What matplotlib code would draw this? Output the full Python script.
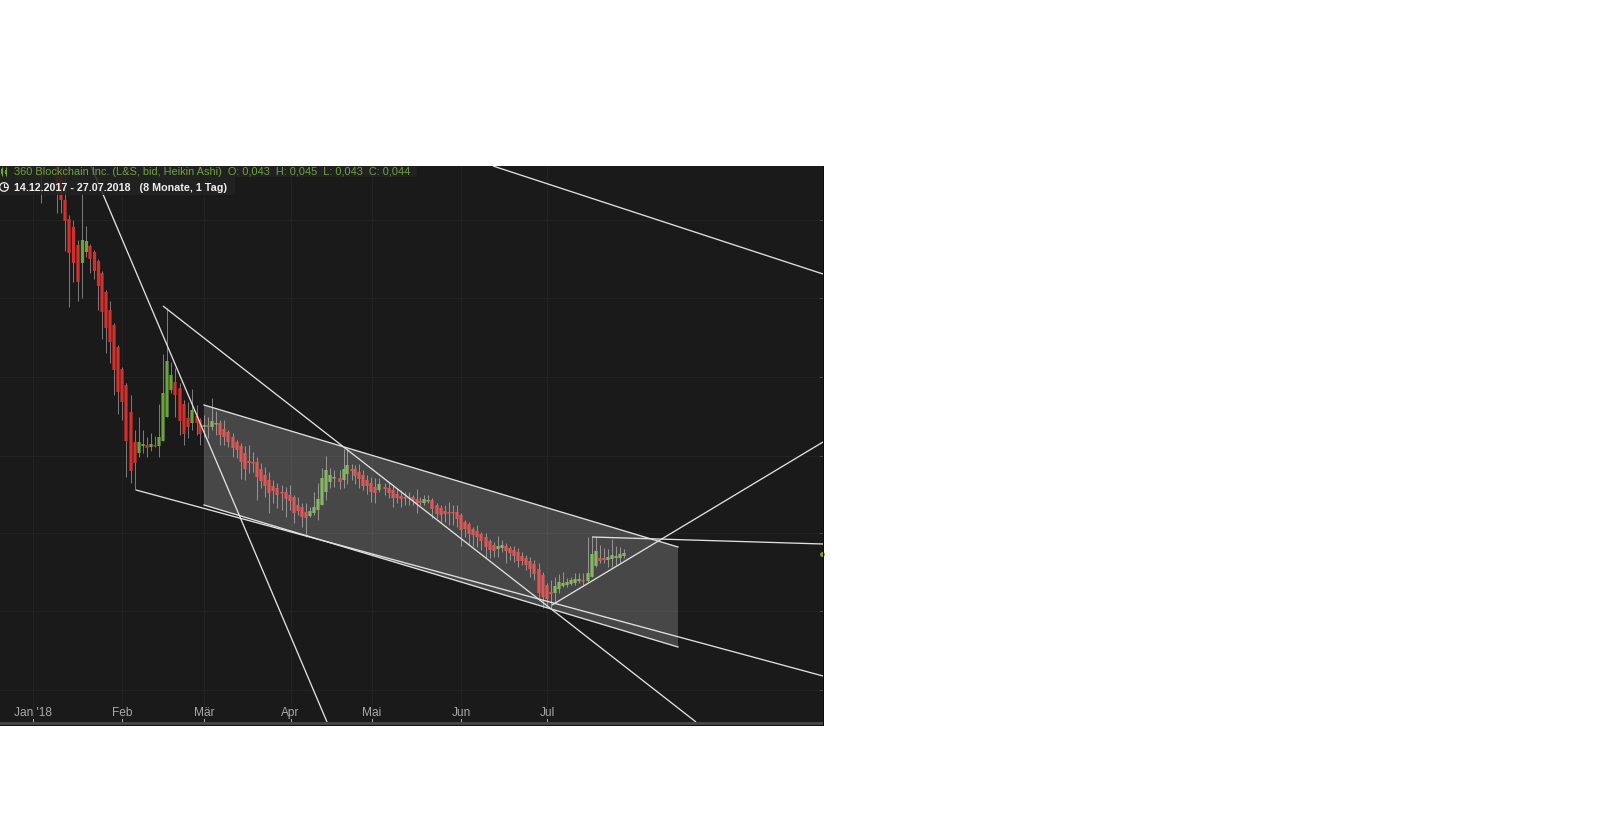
import matplotlib
matplotlib.use("Agg")
import matplotlib.pyplot as plt
from matplotlib.patches import Circle, Polygon, Rectangle

plt.rcParams['font.family'] = ['Liberation Sans', 'DejaVu Sans']

bar_x = [41, 57, 61, 65, 69, 73.5, 78, 82.5, 86.5, 90, 94.5, 98.5, 102, 106, 110, 114, 118, 122, 126, 131,
         135, 139, 143, 147, 151, 155, 159, 163, 167, 171, 175, 180, 184, 188, 192, 197, 200, 204, 208, 212,
         216, 220, 224, 228, 233, 237, 241, 245, 249, 253, 257, 261, 265, 269, 273, 277, 282, 286, 290, 294,
         298, 302, 306, 310, 314, 318, 322, 326, 330, 334, 340, 344, 347, 352, 355, 359, 363, 367, 371, 375,
         379, 385, 389, 393, 397, 401, 405, 409, 413, 417, 420, 424, 428, 432, 437, 441, 445, 449, 453, 457,
         461, 465, 469, 473, 477, 481, 486, 490, 494, 498, 502, 506, 510, 514, 518, 522, 526, 530, 534, 539,
         543, 547, 551, 555, 559, 563, 567, 571, 575, 579, 583, 588, 592, 596, 600, 604, 608, 612, 616, 620, 624]
body_top = [168, 166, 176, 200, 219, 227, 245, 240, 241, 246, 252, 261, 273, 292, 310, 325, 347, 369, 385, 412,
            442, 442, 444, 445, 444, 445, 437, 393, 361, 375, 382, 388, 404, 418, 410, 416, 420, 425, 425, 421,
            423, 423, 429, 432, 437, 442, 446, 453, 461, 462, 462, 469, 475, 480, 486, 488, 492, 492, 495, 497,
            505, 507, 512, 511, 507, 499, 478, 470, 475, 477, 478, 469, 465, 469, 469, 472, 475, 480, 483, 487,
            484, 487, 488, 490, 494, 496, 497, 497, 497, 499, 501, 499, 500, 500, 505, 508, 511, 512, 512, 512,
            515, 522, 524, 529, 531, 534, 537, 541, 545, 546, 545, 546, 548, 550, 552, 556, 558, 561, 564, 569,
            575, 585, 592, 586, 582, 583, 582, 580, 579, 579, 580, 573, 554, 551, 558, 558, 557, 555, 556, 554, 553]
body_bottom = [176, 188, 200, 221, 253, 263, 282, 263, 252, 259, 271, 286, 312, 328, 342, 370, 392, 402, 441, 471,
               463, 453, 446, 448, 447, 446, 446, 441, 417, 390, 395, 421, 434, 427, 423, 423, 434, 427, 427, 427,
               424, 435, 437, 442, 448, 450, 462, 469, 463, 463, 477, 481, 486, 493, 491, 495, 493, 499, 501, 513,
               511, 517, 518, 516, 513, 510, 505, 492, 482, 478, 482, 480, 474, 471, 476, 479, 486, 486, 492, 493,
               490, 489, 493, 498, 498, 499, 498, 498, 500, 503, 503, 503, 501, 509, 514, 515, 514, 513, 513, 519,
               530, 529, 534, 535, 537, 541, 547, 550, 551, 549, 548, 551, 553, 556, 561, 561, 565, 569, 574, 593,
               597, 599, 594, 593, 589, 586, 585, 584, 583, 581, 581, 581, 577, 566, 561, 560, 560, 559, 558, 558, 556]
wick_top = [166, 166, 166, 166, 215, 220, 240, 193, 226, 244, 250, 259, 271, 290, 301, 323, 345, 367, 383, 395,
            430, 417, 430, 437, 433, 436, 404, 354, 308, 362, 368, 383, 400, 402, 389, 405, 418, 415, 417, 398,
            411, 420, 420, 430, 433, 440, 443, 446, 445, 452, 457, 463, 467, 472, 480, 483, 485, 487, 485, 495,
            497, 503, 503, 507, 492, 483, 468, 456, 468, 470, 470, 449, 449, 464, 465, 464, 470, 475, 477, 478,
            478, 483, 482, 485, 488, 490, 492, 492, 495, 489, 497, 495, 495, 498, 503, 505, 505, 502, 505, 505,
            513, 520, 522, 527, 525, 532, 533, 539, 542, 536, 540, 543, 546, 546, 548, 552, 555, 557, 560, 563,
            572, 583, 580, 577, 574, 572, 578, 577, 573, 573, 573, 537, 537, 537, 545, 548, 549, 539, 546, 547, 549]
wick_bottom = [203, 213, 213, 251, 307, 282, 301, 298, 257, 273, 279, 310, 339, 353, 363, 395, 414, 420, 477, 483,
               490, 457, 453, 457, 451, 447, 457, 441, 417, 393, 417, 435, 445, 438, 430, 435, 445, 437, 438, 430,
               435, 445, 445, 447, 457, 458, 479, 480, 473, 472, 500, 488, 497, 513, 503, 508, 510, 517, 510, 523,
               515, 527, 537, 517, 515, 520, 505, 500, 488, 487, 489, 488, 484, 480, 484, 488, 490, 494, 502, 503,
               492, 495, 498, 507, 503, 507, 505, 505, 505, 513, 505, 505, 503, 518, 518, 522, 522, 525, 525, 527,
               546, 537, 545, 546, 547, 550, 558, 558, 557, 557, 552, 563, 560, 562, 567, 565, 570, 577, 580, 598,
               608, 607, 608, 603, 593, 587, 587, 585, 585, 583, 585, 582, 577, 567, 563, 563, 567, 567, 565, 563, 558]
green_x = [82.5, 86.5, 139, 143, 151, 159, 163, 167, 171, 192, 204, 212, 216, 310, 314, 318, 322, 326, 330, 334,
           344, 347, 379, 424, 428, 498, 502, 555, 559, 563, 567, 571, 575, 579, 588, 592, 596, 608, 612, 616, 620, 624]

trend_x0 = [493, 91, 163, 136, 552, 592]
trend_y0 = [166, 166, 306, 490, 605, 537]
trend_x1 = [823, 327, 696, 823, 823, 823]
trend_y1 = [274, 722, 722, 676, 442, 544]

channel_x = [204, 678, 678, 204]
channel_y = [405, 547, 647, 505]

grid_y = [220, 298, 377, 456, 533, 611, 690]
tick_x = [33.3, 122.3, 204.3, 290.6, 371.6, 461, 547.4]
tick_labels = ["Jan '18", "Feb", "Mär", "Apr", "Mai", "Jun", "Jul"]

header1 = "360 Blockchain Inc. (L&S, bid, Heikin Ashi)  O: 0,043  H: 0,045  L: 0,043  C: 0,044"
header2 = "14.12.2017 - 27.07.2018   (8 Monate, 1 Tag)"

RED = "#d42f2b"
GREEN = "#6aa53a"
BG = "#1a1a1a"

fig = plt.figure(figsize=(16, 8.38), dpi=100, facecolor="white")
ax = fig.add_axes([0, (838 - 722) / 838, 823 / 1600, (722 - 166) / 838], facecolor=BG)
ax.set_xlim(0, 823)
ax.set_ylim(722, 166)
for s in ax.spines.values():
    s.set_visible(False)
ax.set_xticks([])
ax.set_yticks([])

# grid
for y in grid_y:
    ax.axhline(y, color="#232323", lw=0.7, zorder=1)
    ax.plot([820, 823], [y, y], color="#4a4a4a", lw=0.7, zorder=2)
for x in tick_x:
    ax.axvline(x, color="#232323", lw=0.7, zorder=1)
    ax.plot([x, x], [719, 722], color="#b0b0b0", lw=0.7, zorder=2)

# candles
ax.vlines(bar_x, wick_top, wick_bottom, color="#7e7e7e", lw=0.7, zorder=3)
colors = [GREEN if x in green_x else RED for x in bar_x]
heights = [max(b - t, 1.5) for t, b in zip(body_top, body_bottom)]
bars = ax.bar(bar_x, heights, bottom=body_top, width=3.2, color=colors, linewidth=0, zorder=4)
for b in bars:
    b.set_snap(False)

# channel, grey overlay above the candles
ax.add_patch(Polygon(list(zip(channel_x, channel_y)), closed=True, facecolor="white", alpha=0.2,
                     edgecolor="none", zorder=5))
ax.plot(channel_x[:2], channel_y[:2], color="#e0e0e0", lw=0.95, zorder=6)
ax.plot(channel_x[2:], channel_y[2:], color="#e0e0e0", lw=0.95, zorder=6)

# drawn trend lines
for x0, y0, x1, y1 in zip(trend_x0, trend_y0, trend_x1, trend_y1):
    ax.plot([x0, x1], [y0, y1], color="#e0e0e0", lw=0.95, zorder=6, solid_capstyle="butt")

ax.plot([822], [554], marker="o", ms=2.5, color=GREEN, zorder=7, clip_on=False)

# header boxes
ax.add_patch(Rectangle((0, 166), 417, 11, facecolor="#232323", alpha=0.85, edgecolor="none", zorder=8))
ax.add_patch(Rectangle((0, 177), 235, 18, facecolor="#232323", alpha=0.85, edgecolor="none", zorder=8))
ax.text(14, 172.5, header1, color="#6aa53c", fontsize=7.9, va="center", ha="left", zorder=9)
ax.text(14, 188, header2, color="#eeeeee", fontsize=7.75, va="center", ha="left", zorder=9, fontweight="bold")

# the two little icons
ax.vlines([2, 6], 167, 176, color="#6aa53c", lw=0.8, zorder=9)
ax.add_patch(Rectangle((0.8, 169), 2.4, 5, facecolor="#6aa53c", edgecolor="none", zorder=9))
ax.add_patch(Rectangle((4.8, 170), 2.4, 4, facecolor="#6aa53c", edgecolor="none", zorder=9))
ax.add_patch(Circle((4, 187), 4.3, facecolor="none", edgecolor="#eeeeee", lw=0.9, zorder=9))
ax.plot([4, 4, 7], [184, 187, 187], color="#eeeeee", lw=0.8, zorder=9)

for x, label in zip(tick_x, tick_labels):
    ax.text(x, 713, label, color="#a8a8a8", fontsize=8.6, ha="center", va="center", zorder=9)

# strip under the panel and border at the right
fig.add_artist(Rectangle((0, (838 - 725) / 838), 823.5 / 1600, 3 / 838, transform=fig.transFigure,
                         facecolor="#444444", edgecolor="none"))
fig.add_artist(Rectangle((0, (838 - 726) / 838), 824 / 1600, 1 / 838, transform=fig.transFigure,
                         facecolor="#111111", edgecolor="none"))
fig.add_artist(Rectangle((822.5 / 1600, (838 - 725) / 838), 1.2 / 1600, 559 / 838, transform=fig.transFigure,
                         facecolor="#0c0c0c", edgecolor="none"))

fig.savefig("out.png", dpi=100, facecolor="white")
